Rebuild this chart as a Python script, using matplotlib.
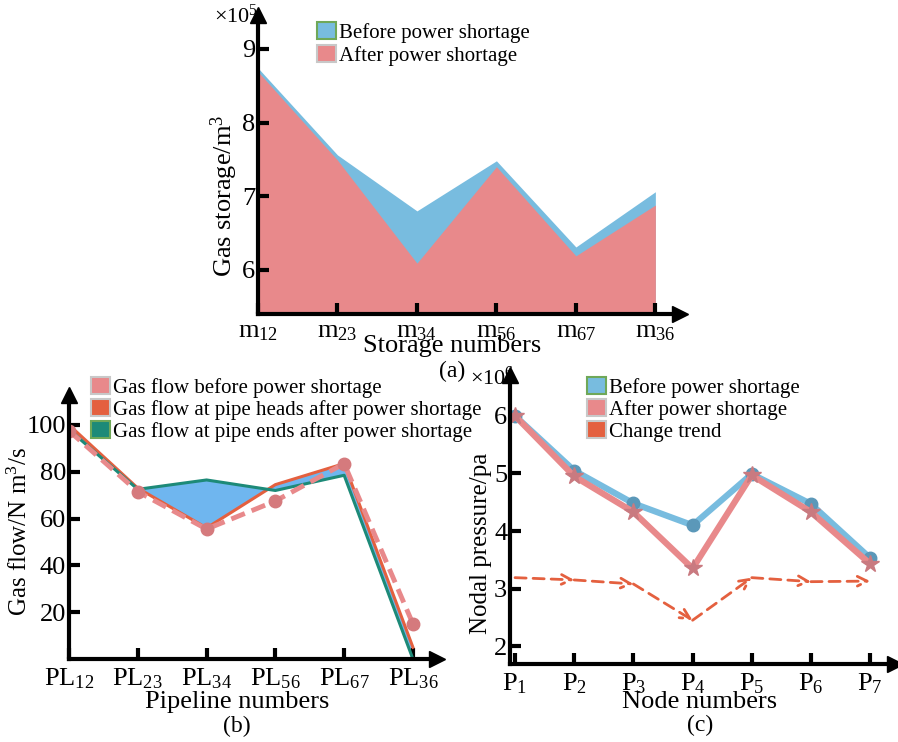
import matplotlib.pyplot as plt
from matplotlib.patches import Patch

plt.rcParams['font.family'] = 'Liberation Serif'
plt.rcParams['mathtext.fontset'] = 'custom'
plt.rcParams['mathtext.rm'] = 'Liberation Serif'
plt.rcParams['mathtext.it'] = 'Liberation Serif:italic'

W, H = 898, 742

# (a) gas storage, x10^5 m3
storage_names = [r'$\mathrm{m_{12}}$', r'$\mathrm{m_{23}}$', r'$\mathrm{m_{34}}$',
                 r'$\mathrm{m_{56}}$', r'$\mathrm{m_{67}}$', r'$\mathrm{m_{36}}$']
storage_before = [8.74, 7.56, 6.80, 7.48, 6.31, 7.06]
storage_after = [8.69, 7.49, 6.09, 7.40, 6.19, 6.88]

# (b) pipeline gas flow, N m3/s
pipe_names = [r'$\mathrm{PL_{12}}$', r'$\mathrm{PL_{23}}$', r'$\mathrm{PL_{34}}$',
              r'$\mathrm{PL_{56}}$', r'$\mathrm{PL_{67}}$', r'$\mathrm{PL_{36}}$']
flow_before = [97.5, 71.5, 55.5, 67.5, 83.5, 15]
flow_heads = [100, 73, 56, 74.5, 83.5, 5]
flow_ends = [98, 72.5, 76.5, 72, 78.5, 0]

# (c) nodal pressure, x10^6 pa
node_names = [r'$\mathrm{P_{1}}$', r'$\mathrm{P_{2}}$', r'$\mathrm{P_{3}}$', r'$\mathrm{P_{4}}$',
              r'$\mathrm{P_{5}}$', r'$\mathrm{P_{6}}$', r'$\mathrm{P_{7}}$']
press_before = [6.0, 5.05, 4.48, 4.10, 4.99, 4.47, 3.53]
press_after = [6.0, 4.95, 4.33, 3.35, 4.97, 4.33, 3.43]
trend = [3.19, 3.15, 3.08, 2.45, 3.19, 3.12, 3.13]

BLUE = '#78bcdf'
PINK = '#e8898b'
RED = '#e4603f'
TEAL = '#1d8a78'


def fx(px):
    return px / W


def fy(py):
    return 1 - py / H


def arrow_axes(ax):
    for s in ['top', 'right']:
        ax.spines[s].set_visible(False)
    for s in ['left', 'bottom']:
        ax.spines[s].set_linewidth(3)
    ax.plot(1, 0, '>k', ms=11, transform=ax.transAxes, clip_on=False)
    ax.plot(0, 1, '^k', ms=11, transform=ax.transAxes, clip_on=False)
    ax.tick_params(direction='in', width=3, length=8, labelsize=19)
    ax.tick_params(axis='x', pad=5)
    ax.tick_params(axis='y', pad=2)
    ax.set_facecolor('none')


def place_labels(ax, xl, yl, xpos, ypos, ysize):
    ax.set_xlabel(xl, fontsize=19, va='center')
    ax.xaxis.set_label_coords(fx(xpos[0]), fy(xpos[1]), transform=fig.transFigure)
    ax.set_ylabel(yl, fontsize=ysize, va='center')
    ax.yaxis.set_label_coords(fx(ypos[0]), fy(ypos[1]), transform=fig.transFigure)


fig = plt.figure(figsize=(W / 100, H / 100), dpi=100)

# ---------- (a)
ax1 = fig.add_axes([fx(258), fy(314), fx(680 - 258), (314 - 15) / H])
x = range(len(storage_names))
ax1.fill_between(x, storage_before, 5.4, color=BLUE, lw=0)
ax1.fill_between(x, storage_after, 5.4, color=PINK, lw=0)
ax1.set_xlim(0, 5.31)
ax1.set_ylim(5.4, 9.46)
ax1.set_xticks(list(x))
ax1.set_xticklabels(storage_names)
ax1.set_yticks([6, 7, 8, 9])
arrow_axes(ax1)
place_labels(ax1, 'Storage numbers', 'Gas storage/m$^3$', (452, 346), (224, 196), 19)
fig.text(fx(214), fy(16), r'$\times 10^5$', fontsize=16, va='center')
ax1.legend(handles=[Patch(facecolor=BLUE, edgecolor='#6fa858', lw=1.5),
                    Patch(facecolor=PINK, edgecolor='#c8c8c8', lw=1.5)],
           labels=['Before power shortage', 'After power shortage'],
           loc='upper left', bbox_to_anchor=(fx(317), fy(22)), bbox_transform=fig.transFigure,
           frameon=False, fontsize=15, handlelength=0.9, handleheight=0.9,
           handletextpad=0.15, labelspacing=0.1, borderpad=0, borderaxespad=0)
fig.text(fx(452), fy(371), '(a)', fontsize=17, ha='center', va='center')

# ---------- (b)
ax2 = fig.add_axes([fx(69), fy(659), fx(437 - 69), (659 - 395) / H])
x = range(len(pipe_names))
ax2.fill_between(x, flow_heads, flow_ends, color='#6fb6ef', lw=0)
ax2.plot(x, flow_heads, color=RED, lw=2.2)
ax2.plot(x, flow_ends, color=TEAL, lw=2.2)
ax2.plot(x, flow_before, color=PINK, lw=3.5, ls=(0, (3, 1.5)),
         marker='o', ms=9, mfc='#d57a7d', mec='#d57a7d')
ax2.set_xlim(0, 5.35)
ax2.set_ylim(0, 112.8)
ax2.set_xticks(list(x))
ax2.set_xticklabels(pipe_names)
ax2.set_yticks([20, 40, 60, 80, 100])
arrow_axes(ax2)
place_labels(ax2, 'Pipeline numbers', 'Gas flow/N m$^3$/s', (237, 702), (20, 532), 18)
ax2.legend(handles=[Patch(facecolor=PINK, edgecolor='#c8c8c8', lw=1.5),
                    Patch(facecolor=RED, edgecolor='#c8c8c8', lw=1.5),
                    Patch(facecolor=TEAL, edgecolor='#6fa858', lw=1.5)],
           labels=['Gas flow before power shortage',
                   'Gas flow at pipe heads after power shortage',
                   'Gas flow at pipe ends after power shortage'],
           loc='upper left', bbox_to_anchor=(fx(91), fy(377)), bbox_transform=fig.transFigure,
           frameon=False, fontsize=15, handlelength=0.9, handleheight=0.9,
           handletextpad=0.15, labelspacing=0.05, borderpad=0, borderaxespad=0)
fig.text(fx(237), fy(726), '(b)', fontsize=17, ha='center', va='center')

# ---------- (c)
ax3 = fig.add_axes([fx(510), fy(664), fx(895 - 510), (664 - 375) / H])
x = list(range(len(node_names)))
ax3.plot(x, press_before, color=BLUE, lw=4.5, marker='o', ms=9,
         mfc='#5b98b9', mec='#5b98b9')
ax3.plot(x, press_after, color=PINK, lw=4.5, marker='*', ms=13,
         mfc='#c97a80', mec='#c97a80')
for i in range(len(trend) - 1):
    ax3.annotate('', xy=(x[i + 1], trend[i + 1]), xytext=(x[i], trend[i]),
                 arrowprops=dict(arrowstyle='->,head_length=0.7,head_width=0.35',
                                 color=RED, lw=2, ls=(0, (4, 2.5)),
                                 shrinkA=0, shrinkB=0))
ax3.set_xlim(-0.085, 6.42)
ax3.set_ylim(1.69, 6.71)
ax3.set_xticks(x)
ax3.set_xticklabels(node_names)
ax3.set_yticks([2, 3, 4, 5, 6])
arrow_axes(ax3)
place_labels(ax3, 'Node numbers', 'Nodal pressure/pa', (700, 702), (481, 543), 18)
fig.text(fx(470), fy(378), r'$\times 10^6$', fontsize=16, va='center')
ax3.legend(handles=[Patch(facecolor=BLUE, edgecolor='#6fa858', lw=1.5),
                    Patch(facecolor=PINK, edgecolor='#c8c8c8', lw=1.5),
                    Patch(facecolor=RED, edgecolor='#c8c8c8', lw=1.5)],
           labels=['Before power shortage', 'After power shortage', 'Change trend'],
           loc='upper left', bbox_to_anchor=(fx(587), fy(377)), bbox_transform=fig.transFigure,
           frameon=False, fontsize=15, handlelength=0.9, handleheight=0.9,
           handletextpad=0.15, labelspacing=0.05, borderpad=0, borderaxespad=0)
fig.text(fx(700), fy(725), '(c)', fontsize=17, ha='center', va='center')

fig.savefig('out.png', dpi=100)
